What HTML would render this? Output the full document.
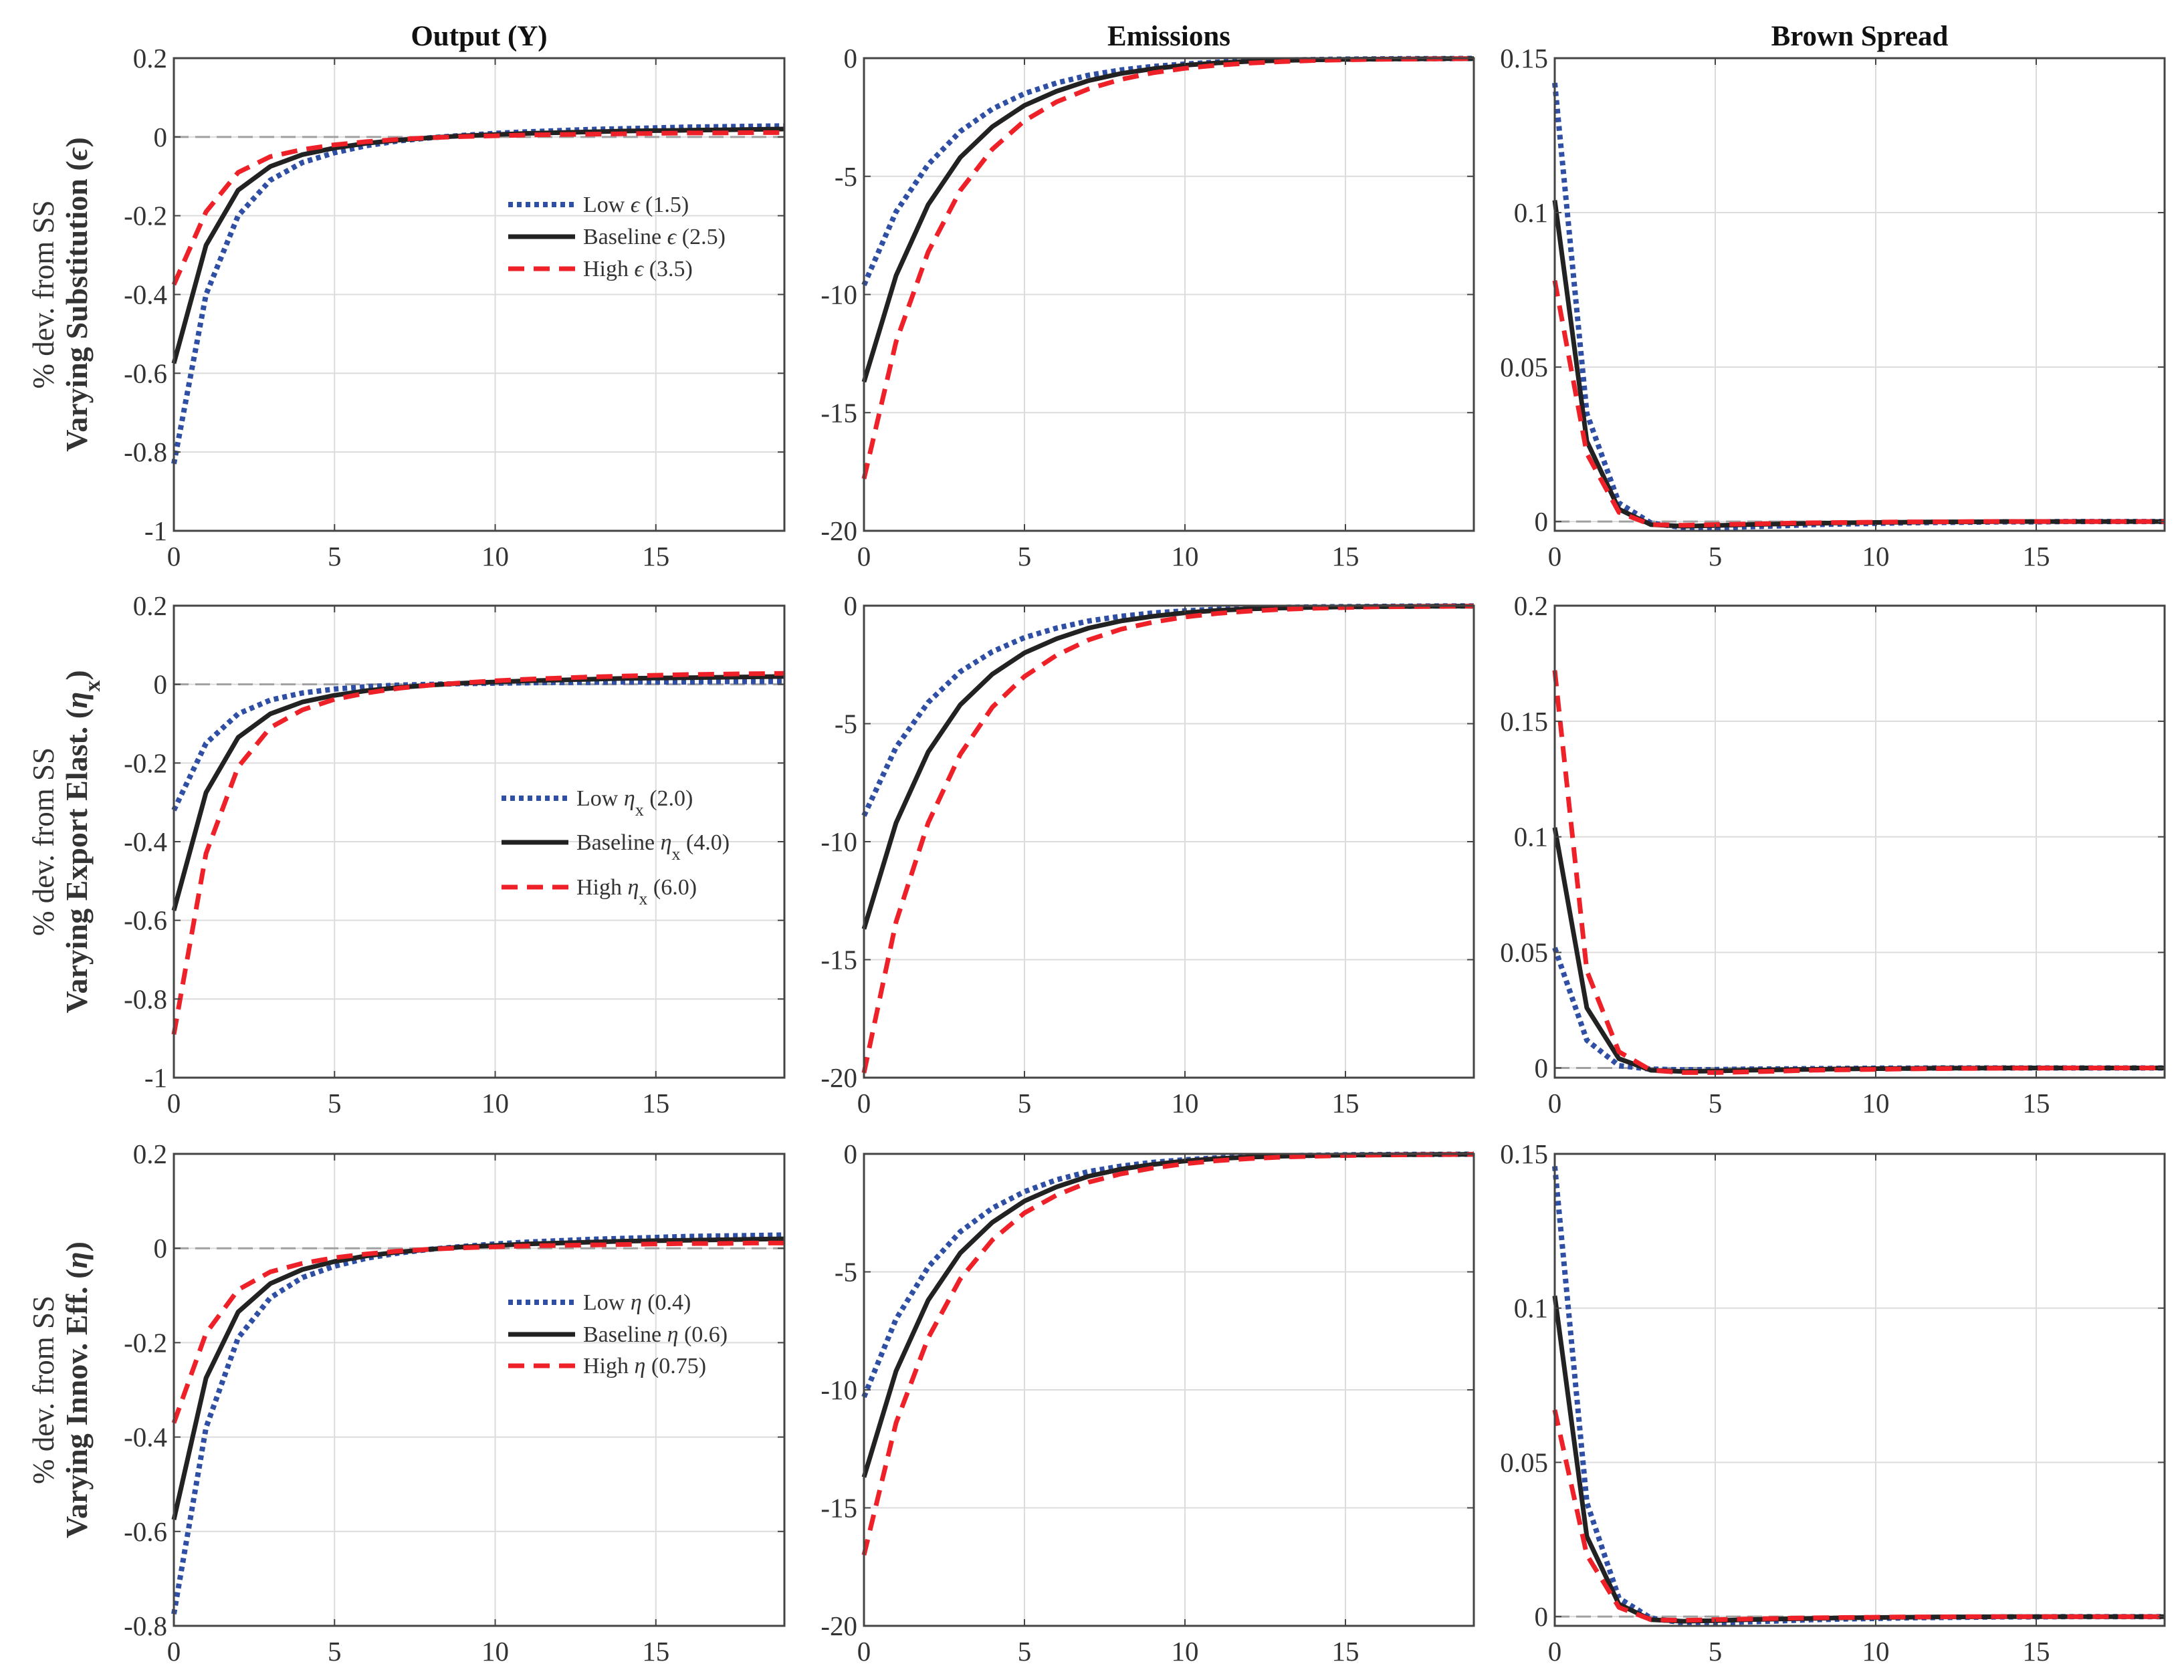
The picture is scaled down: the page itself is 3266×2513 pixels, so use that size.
<!DOCTYPE html>
<html><head><meta charset="utf-8"><style>
html,body{margin:0;padding:0;background:#fff;}
svg{display:block;font-family:"Liberation Serif","DejaVu Serif",serif;}
</style></head><body>
<svg id="fig" width="3266" height="2513" viewBox="0 0 3266 2513" xmlns="http://www.w3.org/2000/svg"></svg>
<script>
const periods=[0,1,2,3,4,5,6,7,8,9,10,11,12,13,14,15,16,17,18,19];
// Output
const outR1Low=[-0.83,-0.40,-0.20,-0.11,-0.065,-0.04,-0.022,-0.01,-0.002,0.004,0.009,0.013,0.016,0.019,0.021,0.023,0.025,0.026,0.027,0.028];
const outBase=[-0.575,-0.275,-0.135,-0.075,-0.045,-0.028,-0.016,-0.008,-0.002,0.003,0.006,0.009,0.011,0.013,0.015,0.016,0.017,0.018,0.019,0.02];
const outR1High=[-0.375,-0.19,-0.09,-0.05,-0.032,-0.02,-0.012,-0.006,-0.002,0.001,0.003,0.005,0.006,0.007,0.008,0.009,0.01,0.01,0.011,0.011];
const outR2Low=[-0.32,-0.15,-0.075,-0.04,-0.022,-0.012,-0.006,-0.002,0,0.002,0.003,0.004,0.005,0.005,0.006,0.006,0.006,0.007,0.007,0.007];
const outR2High=[-0.89,-0.43,-0.21,-0.11,-0.065,-0.038,-0.022,-0.01,-0.002,0.004,0.009,0.013,0.016,0.019,0.021,0.023,0.025,0.026,0.027,0.028];
const outR3Low=[-0.775,-0.38,-0.19,-0.105,-0.062,-0.038,-0.021,-0.01,-0.002,0.004,0.009,0.013,0.016,0.019,0.021,0.023,0.025,0.026,0.027,0.028];
const outR3High=[-0.37,-0.18,-0.088,-0.05,-0.032,-0.02,-0.012,-0.006,-0.002,0.001,0.003,0.005,0.006,0.007,0.008,0.009,0.01,0.01,0.011,0.011];
// Emissions
const emBase=[-13.7,-9.2,-6.2,-4.2,-2.9,-2.0,-1.4,-0.95,-0.65,-0.45,-0.3,-0.2,-0.14,-0.1,-0.07,-0.05,-0.04,-0.03,-0.02,-0.02];
const emR1Low=[-9.6,-6.5,-4.5,-3.1,-2.15,-1.5,-1.05,-0.72,-0.5,-0.35,-0.25,-0.17,-0.12,-0.08,-0.06,-0.04,-0.03,-0.02,-0.02,-0.01];
const emR1High=[-17.8,-12.0,-8.2,-5.6,-3.85,-2.65,-1.85,-1.3,-0.9,-0.62,-0.43,-0.3,-0.21,-0.15,-0.1,-0.07,-0.05,-0.04,-0.03,-0.02];
const emR2Low=[-8.9,-6.0,-4.1,-2.8,-1.95,-1.35,-0.95,-0.65,-0.45,-0.31,-0.22,-0.15,-0.1,-0.07,-0.05,-0.04,-0.03,-0.02,-0.01,-0.01];
const emR2High=[-19.8,-13.4,-9.2,-6.3,-4.3,-3.0,-2.1,-1.45,-1.0,-0.7,-0.48,-0.33,-0.23,-0.16,-0.11,-0.08,-0.05,-0.04,-0.03,-0.02];
const emR3Low=[-10.3,-7.0,-4.8,-3.3,-2.3,-1.6,-1.1,-0.75,-0.52,-0.36,-0.25,-0.17,-0.12,-0.08,-0.06,-0.04,-0.03,-0.02,-0.02,-0.01];
const emR3High=[-17.0,-11.4,-7.8,-5.3,-3.65,-2.5,-1.75,-1.2,-0.85,-0.6,-0.42,-0.29,-0.2,-0.14,-0.1,-0.07,-0.05,-0.04,-0.03,-0.02];
// Brown spread
const bsBase=[0.104,0.026,0.004,-0.001,-0.0015,-0.0013,-0.001,-0.0008,-0.0006,-0.0004,-0.0003,-0.0002,-0.0001,-0.0001,0,0,0,0,0,0];
const bsR1Low=[0.142,0.035,0.006,-0.0005,-0.002,-0.002,-0.0017,-0.0014,-0.001,-0.0008,-0.0006,-0.0004,-0.0003,-0.0002,-0.0001,-0.0001,0,0,0,0];
const bsR1High=[0.078,0.022,0.003,-0.001,-0.0012,-0.001,-0.0008,-0.0006,-0.0004,-0.0003,-0.0002,-0.0001,-0.0001,0,0,0,0,0,0,0];
const bsR2Low=[0.052,0.012,0.001,-0.0005,-0.0008,-0.0007,-0.0005,-0.0004,-0.0003,-0.0002,-0.0001,-0.0001,0,0,0,0,0,0,0,0];
const bsR2High=[0.172,0.042,0.007,-0.001,-0.002,-0.002,-0.0017,-0.0014,-0.001,-0.0008,-0.0006,-0.0004,-0.0003,-0.0002,-0.0001,-0.0001,0,0,0,0];
const bsR3Low=[0.146,0.037,0.006,-0.0005,-0.002,-0.002,-0.0017,-0.0014,-0.001,-0.0008,-0.0006,-0.0004,-0.0003,-0.0002,-0.0001,-0.0001,0,0,0,0];
const bsR3High=[0.067,0.020,0.003,-0.001,-0.0012,-0.001,-0.0008,-0.0006,-0.0004,-0.0003,-0.0002,-0.0001,-0.0001,0,0,0,0,0,0,0];
// ticks
const xTicks=[0,5,10,15];
const outTicks1=[-1,-0.8,-0.6,-0.4,-0.2,0,0.2];
const outTicks3=[-0.8,-0.6,-0.4,-0.2,0,0.2];
const emTicks=[-20,-15,-10,-5,0];
const bsTicks1=[0,0.05,0.1,0.15];
const bsTicks2=[0,0.05,0.1,0.15,0.2];
const colTitles=["Output (Y)","Emissions","Brown Spread"];

const NS="http://www.w3.org/2000/svg";
const svg=document.getElementById('fig');
function mk(tag,attrs,parent){const e=document.createElementNS(NS,tag);for(const k in attrs)e.setAttribute(k,attrs[k]);(parent||svg).appendChild(e);return e;}
const colX=[[260,1173],[1292,2204],[2325,3237]];
const rowY=[[87,794],[906,1612],[1726,2432]];
const BLUE="#2f4fa5",BLACK="#222",RED="#ee2028";

function fmt(v){return String(Math.round(v*1000)/1000);}

function panel(r,c,ymin,ymax,yticks,series,name){
  const [x0,x1]=colX[c],[y0,y1]=rowY[r];
  const g=mk('g',{});
  
  
  const sx=v=>x0+(v-0)/(19-0)*(x1-x0);
  const sy=v=>y1-(v-ymin)/(ymax-ymin)*(y1-y0);
  xTicks.forEach(t=>{if(t>0){const l=mk('line',{x1:sx(t),x2:sx(t),y1:y0,y2:y1,stroke:'#dcdcdc','stroke-width':2},g);}});
  yticks.forEach(t=>{const l=mk('line',{x1:x0,x2:x1,y1:sy(t),y2:sy(t),stroke:'#dcdcdc','stroke-width':2},g);});
  const z=mk('line',{x1:x0,x2:x1,y1:sy(0),y2:sy(0),stroke:'#a0a0a0','stroke-width':3,'stroke-dasharray':'22 10'},g);
  
  const styles=[{col:BLUE,dash:'7 6',w:8},{col:BLACK,dash:'',w:7},{col:RED,dash:'24 14',w:7}];
  const names=['series-low','series-baseline','series-high'];
  series.forEach((arr,i)=>{
    const d=arr.map((v,k)=>(k?'L':'M')+sx(periods[k]).toFixed(1)+','+sy(v).toFixed(1)).join(' ');
    const p=mk('path',{d:d,fill:'none',stroke:styles[i].col,'stroke-width':styles[i].w,'stroke-dasharray':styles[i].dash,'stroke-linejoin':'round'},g);
    
  });
  const b=mk('rect',{x:x0,y:y0,width:x1-x0,height:y1-y0,fill:'none',stroke:'#444','stroke-width':3},g);
  
  xTicks.forEach(t=>{
    mk('line',{x1:sx(t),x2:sx(t),y1:y1,y2:y1-10,stroke:'#444','stroke-width':2},g);
    mk('line',{x1:sx(t),x2:sx(t),y1:y0,y2:y0+10,stroke:'#444','stroke-width':2},g);
    const tx=mk('text',{x:sx(t),y:y1+52,'text-anchor':'middle','font-size':41,fill:'#333'},g);
    tx.textContent=t;
  });
  yticks.forEach(t=>{
    mk('line',{x1:x0,x2:x0+10,y1:sy(t),y2:sy(t),stroke:'#444','stroke-width':2},g);
    mk('line',{x1:x1,x2:x1-10,y1:sy(t),y2:sy(t),stroke:'#444','stroke-width':2},g);
    const tx=mk('text',{x:x0-10,y:sy(t)+14,'text-anchor':'end','font-size':41,fill:'#333'},g);
    tx.textContent=fmt(t);
  });
}

colTitles.forEach((t,c)=>{
  const tx=mk('text',{x:(colX[c][0]+colX[c][1])/2,y:68,'text-anchor':'middle','font-size':43,'font-weight':'bold',fill:'#111'});
  tx.textContent=t;
});

panel(0,0,-1,0.2,outTicks1,[outR1Low,outBase,outR1High],'output-substitution-panel');
panel(1,0,-1,0.2,outTicks1,[outR2Low,outBase,outR2High],'output-export-panel');
panel(2,0,-0.8,0.2,outTicks3,[outR3Low,outBase,outR3High],'output-innovation-panel');
panel(0,1,-20,0,emTicks,[emR1Low,emBase,emR1High],'emissions-substitution-panel');
panel(1,1,-20,0,emTicks,[emR2Low,emBase,emR2High],'emissions-export-panel');
panel(2,1,-20,0,emTicks,[emR3Low,emBase,emR3High],'emissions-innovation-panel');
panel(0,2,-0.003,0.15,bsTicks1,[bsR1Low,bsBase,bsR1High],'brown-spread-substitution-panel');
panel(1,2,-0.0042,0.2,bsTicks2,[bsR2Low,bsBase,bsR2High],'brown-spread-export-panel');
panel(2,2,-0.003,0.15,bsTicks1,[bsR3Low,bsBase,bsR3High],'brown-spread-innovation-panel');

const rowBold=[
  'Varying Substitution (<tspan font-style="italic">ϵ</tspan>)',
  'Varying Export Elast. (<tspan font-style="italic">η</tspan><tspan baseline-shift="sub" font-size="34">x</tspan>)',
  'Varying Innov. Eff. (<tspan font-style="italic">η</tspan>)'];
rowY.forEach((ry,r)=>{
  const cy=(ry[0]+ry[1])/2;
  const a=mk('text',{x:0,y:0,transform:`translate(80,${cy}) rotate(-90)`,'text-anchor':'middle','font-size':45,fill:'#333'});
  a.textContent='% dev. from SS';
  const b=mk('text',{x:0,y:0,transform:`translate(130,${cy}) rotate(-90)`,'text-anchor':'middle','font-size':46,'font-weight':'bold',fill:'#333'});
  b.innerHTML=rowBold[r];
});

const legends=[
  {y:[306,354,402],lx:760,labels:['Low <tspan font-style="italic">ϵ</tspan> (1.5)','Baseline <tspan font-style="italic">ϵ</tspan> (2.5)','High <tspan font-style="italic">ϵ</tspan> (3.5)']},
  {y:[1194,1260,1327],lx:750,labels:['Low <tspan font-style="italic">η</tspan><tspan baseline-shift="sub" font-size="26">x</tspan> (2.0)','Baseline <tspan font-style="italic">η</tspan><tspan baseline-shift="sub" font-size="26">x</tspan> (4.0)','High <tspan font-style="italic">η</tspan><tspan baseline-shift="sub" font-size="26">x</tspan> (6.0)']},
  {y:[1948,1996,2043],lx:760,labels:['Low <tspan font-style="italic">η</tspan> (0.4)','Baseline <tspan font-style="italic">η</tspan> (0.6)','High <tspan font-style="italic">η</tspan> (0.75)']}];
const lst=[{col:BLUE,dash:'7 6',w:8},{col:BLACK,dash:'',w:7},{col:RED,dash:'24 14',w:7}];
legends.forEach((L,r)=>{
  const g=mk('g',{});
  
  L.y.forEach((y,i)=>{
    mk('line',{x1:L.lx,x2:L.lx+100,y1:y,y2:y,stroke:lst[i].col,'stroke-width':lst[i].w,'stroke-dasharray':lst[i].dash},g);
    const t=mk('text',{x:L.lx+112,y:y+11,'font-size':34,fill:'#333'},g);
    t.innerHTML=L.labels[i];
  });
});
</script>
</body></html>
